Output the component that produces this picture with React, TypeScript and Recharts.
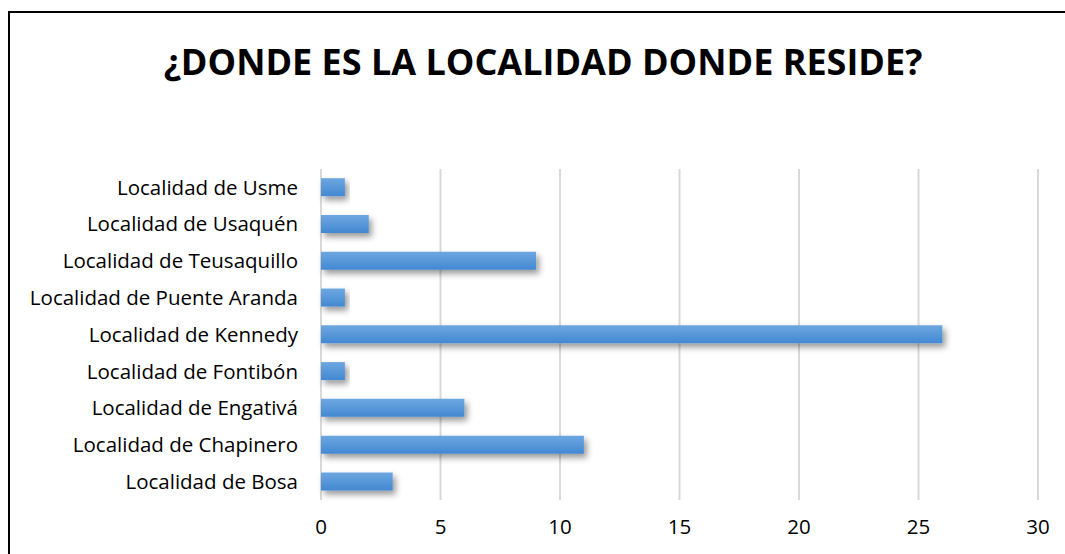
import React from 'react';
import { BarChart, Bar, XAxis, YAxis, CartesianGrid } from 'recharts';

const localidades = [
    'Localidad de Usme',
    'Localidad de Usaquén',
    'Localidad de Teusaquillo',
    'Localidad de Puente Aranda',
    'Localidad de Kennedy',
    'Localidad de Fontibón',
    'Localidad de Engativá',
    'Localidad de Chapinero',
    'Localidad de Bosa',
];
const personas = [1, 2, 9, 1, 26, 1, 6, 11, 3];
const ticks = [0, 5, 10, 15, 20, 25, 30];

const data = localidades.map((name, i) => ({ name, value: personas[i] }));

const FONT = '"Open Sans", sans-serif';

const App = () => {
    return (
        <div
            style={{
                position: 'fixed',
                left: 8,
                top: 11,
                width: 1100,
                height: 600,
                border: '2px solid #000',
                background: '#fff',
                fontFamily: FONT,
            }}
        >
            <svg width={0} height={0} style={{ position: 'absolute' }}>
                <defs>
                    <linearGradient id="barFill" x1="0" y1="0" x2="0" y2="1">
                        <stop offset="0%" stopColor="#6da7e0" />
                        <stop offset="100%" stopColor="#4388d2" />
                    </linearGradient>
                    <filter id="barShadow" x="-10%" y="-50%" width="130%" height="220%">
                        <feDropShadow dx="3" dy="4" stdDeviation="3" floodColor="#000" floodOpacity="0.4" />
                    </filter>
                </defs>
            </svg>
            <div
                style={{
                    position: 'absolute',
                    top: 26,
                    left: 0,
                    width: 1066,
                    textAlign: 'center',
                    fontSize: 36,
                    fontWeight: 700,
                    color: '#000',
                    lineHeight: '46px',
                    whiteSpace: 'nowrap',
                }}
            >
                ¿DONDE ES LA LOCALIDAD DONDE RESIDE?
            </div>
            <BarChart
                width={1070}
                height={560}
                data={data}
                layout="vertical"
                barCategoryGap="25%"
                margin={{ top: 156, right: 42, bottom: 33, left: 0 }}
            >
                <CartesianGrid horizontal={false} stroke="#d9d9d9" strokeWidth={2} />
                <XAxis
                    type="number"
                    domain={[0, 30]}
                    ticks={ticks}
                    axisLine={false}
                    tickLine={false}
                    tickSize={0}
                    tickMargin={19}
                    height={40}
                    tick={{ fill: '#000', fontSize: 20.5, fontFamily: FONT }}
                />
                <YAxis
                    type="category"
                    dataKey="name"
                    width={311}
                    axisLine={false}
                    tickLine={false}
                    tickSize={0}
                    tickMargin={23}
                    interval={0}
                    tick={{ fill: '#000', fontSize: 20.5, fontFamily: FONT }}
                />
                <Bar
                    dataKey="value"
                    fill="url(#barFill)"
                    filter="url(#barShadow)"
                    isAnimationActive={false}
                />
            </BarChart>
        </div>
    );
};

export default App;
